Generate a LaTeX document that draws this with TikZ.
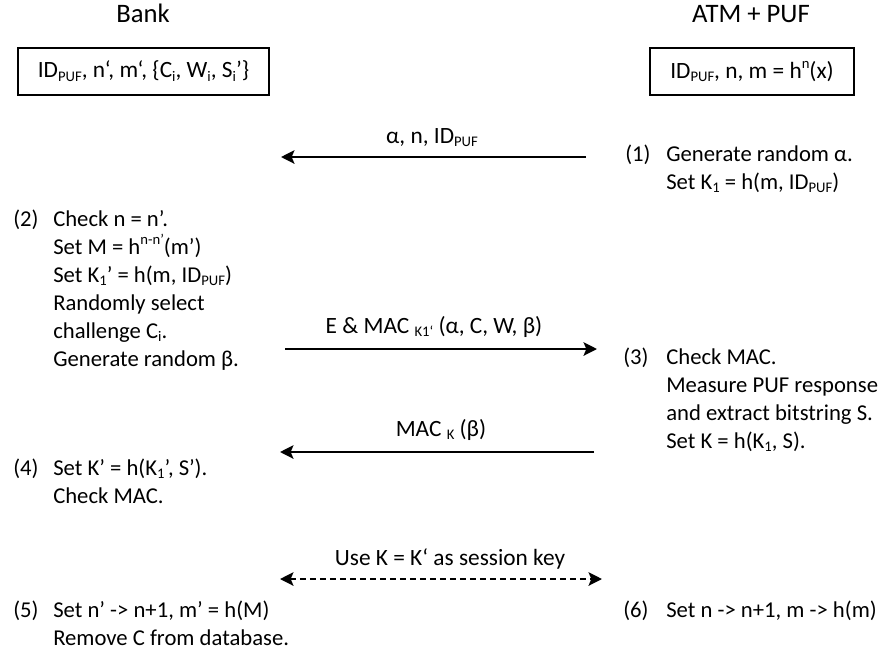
\documentclass[tikz,border=0pt]{standalone}
\usepackage{fontspec}
\setmainfont{Carlito}
\usetikzlibrary{arrows.meta}

\newcommand{\lo}[1]{\raisebox{-0.35ex}{\fontsize{11}{11}\selectfont #1}}
\newcommand{\hi}[1]{\raisebox{0.85ex}{\fontsize{11}{11}\selectfont #1}}

\tikzset{
  txt/.style={anchor=base west, inner sep=0pt, align=left, font=\fontsize{17}{21}\selectfont},
  lbl/.style={anchor=base, inner sep=0pt, font=\fontsize{17.5}{21}\selectfont},
  party/.style={anchor=base, inner sep=0pt, font=\fontsize{20}{24}\selectfont},
  keybox/.style={draw, line width=0.8pt, minimum height=35.25pt, inner sep=0pt, font=\fontsize{17.5}{21}\selectfont},
  msg/.style={line width=2pt, -{Stealth[length=10pt,width=10pt,inset=2pt]}},
  shared/.style={line width=2pt, dash pattern=on 4.5pt off 3pt, {Stealth[length=10pt,width=10pt,inset=2pt]}-{Stealth[length=10pt,width=10pt,inset=2pt]}}
}

\begin{document}
\begin{tikzpicture}[x=0.75pt,y=0.75pt,yscale=-1,xscale=1]
\useasboundingbox (0,0) rectangle (882,669);

% parties
\draw (143,22) node [party] (bank) {Bank};
\draw (751,22) node [party] (atm) {ATM + PUF};
\draw (143.5,71.5) node [keybox, minimum width=188.25pt] (bankkeys) {ID\lo{PUF}, n‘, m‘, \{C\lo{i}, W\lo{i}, S\lo{i}’\}};
\draw (752,71.5) node [keybox, minimum width=153pt] (atmkeys) {ID\lo{PUF}, n, m = h\hi{n}(x)};

% steps (base = last line)
\draw (625,161) node [txt] (n1) {(1)};
\draw (666,189) node [txt] (s1) {Generate random α.\\Set K\lo{1} = h(m, ID\lo{PUF})};
\draw (13,226) node [txt] (n2) {(2)};
\draw (53,366) node [txt] (s2) {Check n = n’.\\Set M = h\hi{n-n’}(m’)\\Set K\lo{1}’ = h(m, ID\lo{PUF})\\Randomly select\\challenge C\lo{i}.\\Generate random β.};
\draw (623,364) node [txt] (n3) {(3)};
\draw (666,448) node [txt] (s3) {Check MAC.\\Measure PUF response\\and extract bitstring S.\\Set K = h(K\lo{1}, S).};
\draw (13,475) node [txt] (n4) {(4)};
\draw (53,503) node [txt] (s4) {Set K’ = h(K\lo{1}’, S’).\\Check MAC.};
\draw (13,617) node [txt] (n5) {(5)};
\draw (53,645) node [txt] (s5) {Set n’ -> n+1, m’ = h(M)\\Remove C from database.};
\draw (623,617) node [txt] (n6) {(6)};
\draw (666,617) node [txt] (s6) {Set n -> n+1, m -> h(m)};

% messages
\coordinate (m1a) at (586,157);
\coordinate (m1b) at (281,157);
\coordinate (m2a) at (285,349);
\coordinate (m2b) at (597,349);
\coordinate (m3a) at (594,452);
\coordinate (m3b) at (280,452);
\coordinate (kl) at (280,579);
\coordinate (kr) at (602,579);
\draw [msg] (m1a) -- (m1b);
\draw [msg] (m2a) -- (m2b);
\draw [msg] (m3a) -- (m3b);
\draw [shared] (kl) -- (kr);
\draw (432,143) node [lbl] (m1) {α, n, ID\lo{PUF}};
\draw (434,333) node [lbl] (m2) {E \& MAC \lo{K1‘} (α, C, W, β)};
\draw (441,436) node [lbl] (m3) {MAC \lo{K} (β)};
\draw (450,565) node [lbl] (key) {Use K = K‘ as session key};
\end{tikzpicture}
\end{document}
